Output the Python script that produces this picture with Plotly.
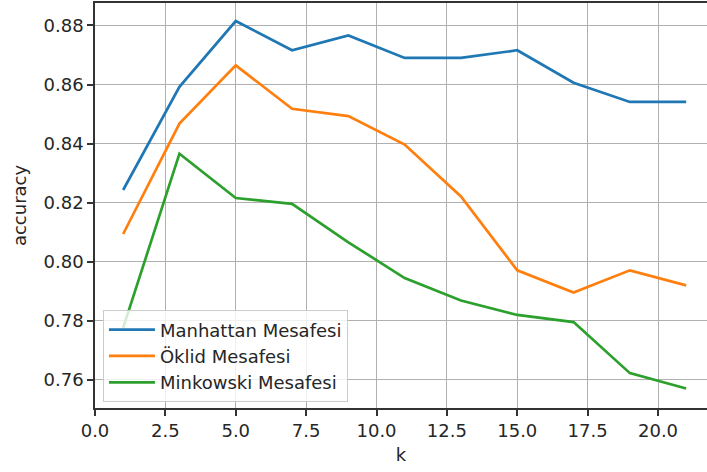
import plotly.graph_objects as go

k = [1, 3, 5, 7, 9, 11, 13, 15, 17, 19, 21]
manhattan = [0.8243, 0.8592, 0.8815, 0.8716, 0.8766, 0.8690, 0.8690, 0.8716, 0.8606, 0.8541, 0.8541]
oklid = [0.8094, 0.8468, 0.8665, 0.8518, 0.8493, 0.8397, 0.8221, 0.7971, 0.7896, 0.7971, 0.7920]
minkowski = [0.7776, 0.8366, 0.8216, 0.8196, 0.8066, 0.7945, 0.7869, 0.7820, 0.7796, 0.7623, 0.7571]
names = ["Manhattan Mesafesi", "Öklid Mesafesi", "Minkowski Mesafesi"]
colors = ["#1f77b4", "#ff7f0e", "#2ca02c"]

FONT = "DejaVu Sans"
TXT = "#262626"

fig = go.Figure()
for name, ys, c in zip(names, [manhattan, oklid, minkowski], colors):
    fig.add_trace(go.Scatter(x=k, y=ys, mode="lines", name=name,
                             line=dict(color=c, width=2.7)))

axis_common = dict(
    showline=True, linecolor="#333333", linewidth=1.5,
    ticks="outside", ticklen=6, tickwidth=1.5, tickcolor="#333333",
    showgrid=True, gridcolor="#b0b0b0", gridwidth=1.4,
    zeroline=False, tickfont=dict(family=FONT, size=18, color=TXT),
)

fig.update_layout(
    width=707, height=472,
    margin=dict(l=95, r=0, t=3, b=64),
    plot_bgcolor="white", paper_bgcolor="white",
    font=dict(family=FONT, size=18, color=TXT),
    xaxis=dict(range=[0, 21.74], dtick=2.5, tick0=0, tickformat=".1f",
               mirror=True,
               title=dict(text="k", font=dict(family=FONT, size=18, color=TXT), standoff=8),
               **axis_common),
    yaxis=dict(range=[0.7505, 0.8876], dtick=0.02, tick0=0.76, tickformat=".2f",
               title=dict(text="accuracy", font=dict(family=FONT, size=18, color=TXT), standoff=12),
               **axis_common),
    legend=dict(x=0.013, y=0.014, xanchor="left", yanchor="bottom",
                bgcolor="rgba(255,255,255,0.8)", bordercolor="#cccccc", borderwidth=1,
                itemwidth=46,
                font=dict(family=FONT, size=18, color=TXT)),
    showlegend=True,
)

fig.write_html("out.html")
